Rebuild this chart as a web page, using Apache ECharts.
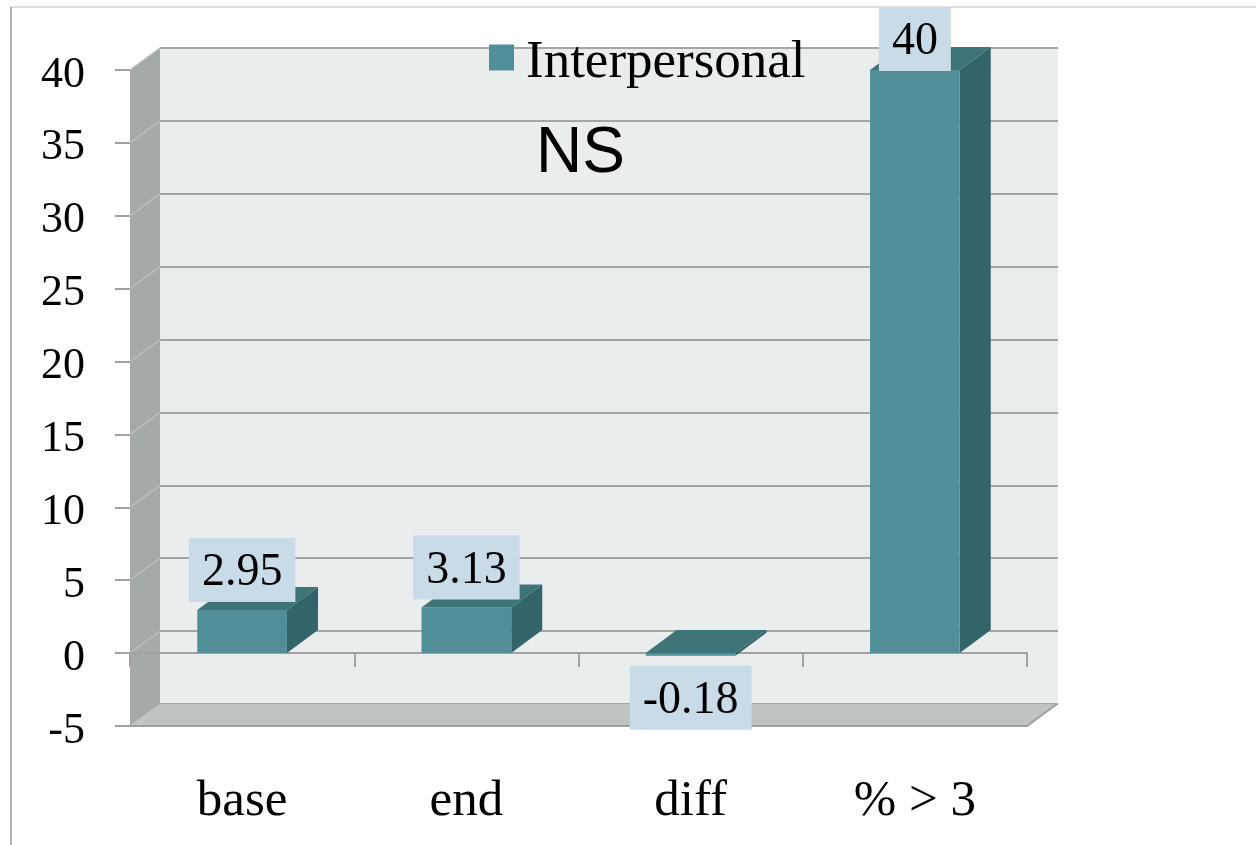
<!DOCTYPE html>
<html>
<head>
<meta charset="utf-8">
<script src="https://cdn.jsdelivr.net/npm/echarts@6/dist/echarts.min.js"></script>
<style>
  html, body { margin: 0; padding: 0; background: #ffffff; }
  #chart { width: 1256px; height: 845px; }
</style>
</head>
<body>
<div id="chart"></div>
<script>
// Chart data
const categories = ['base', 'end', 'diff', '% > 3'];
const seriesName = 'Interpersonal';
const interpersonal = [2.95, 3.13, -0.18, 40];
const yTicks = [-5, 0, 5, 10, 15, 20, 25, 30, 35, 40];
const note = 'NS';

// Oblique depth of the 3D box (pixels)
const DEPTH_X = 30;
const DEPTH_Y = -22;
const BAR_DEPTH_X = 31;
const BAR_DEPTH_Y = -23;

const SERIF = '"Liberation Serif", "Times New Roman", serif';
const FRONT = '#528e97';
const SIDE = '#336469';
const TOP = '#3e7478';

const chart = echarts.init(document.getElementById('chart'), null, { renderer: 'canvas' });

// Walls and floor of the plot box, drawn in the front grid's coordinates
function renderWalls(params, api) {
  const cs = params.coordSys;
  const L = cs.x, R = cs.x + cs.width;
  const yMin = api.coord([0, yTicks[0]])[1];
  const yMax = api.coord([0, yTicks[yTicks.length - 1]])[1];
  const children = [];
  // left side wall
  children.push({
    type: 'polygon',
    shape: { points: [[L, yMax], [L + DEPTH_X, yMax + DEPTH_Y], [L + DEPTH_X, yMin + DEPTH_Y], [L, yMin]] },
    style: { fill: '#a4a9a9' }
  });
  // diagonal grid lines on the side wall
  yTicks.forEach(function (t) {
    const y = api.coord([0, t])[1];
    children.push({
      type: 'line',
      shape: { x1: L, y1: y, x2: L + DEPTH_X, y2: y + DEPTH_Y },
      style: { stroke: '#b9bdbd', lineWidth: 1.5 }
    });
  });
  // floor
  children.push({
    type: 'polygon',
    shape: { points: [[L, yMin], [L + DEPTH_X, yMin + DEPTH_Y], [R + DEPTH_X, yMin + DEPTH_Y], [R, yMin]] },
    style: { fill: '#bfc3c4' }
  });
  children.push({
    type: 'polyline',
    shape: { points: [[L, yMin], [R, yMin], [R + DEPTH_X, yMin + DEPTH_Y]] },
    style: { stroke: '#9d9fa0', lineWidth: 2, fill: null }
  });
  return { type: 'group', children: children };
}

// 3D bars with value boxes
function renderBar(params, api) {
  const cat = api.value(0);
  const v = api.value(1);
  const pTop = api.coord([cat, Math.max(v, 0)]);
  const pBot = api.coord([cat, Math.min(v, 0)]);
  const bw = api.size([1, 0])[0] * 0.4;
  const x0 = pTop[0] - bw / 2, x1 = x0 + bw;
  const yT = pTop[1], yB = pBot[1];
  const dx = BAR_DEPTH_X, dy = BAR_DEPTH_Y;

  const fontSize = 46, padV = 9, padH = 13;
  const boxH = fontSize + 2 * padV;
  let labelY, vAlign;
  if (v >= 0) {
    let bottom = yT - 8;
    if (bottom - boxH < 7) bottom = 7 + boxH;
    labelY = bottom; vAlign = 'bottom';
  } else {
    labelY = yB + 10; vAlign = 'top';
  }

  return {
    type: 'group',
    children: [
      {
        type: 'polygon',
        shape: { points: [[x1, yT], [x1 + dx, yT + dy], [x1 + dx, yB + dy], [x1, yB]] },
        style: { fill: SIDE }
      },
      {
        type: 'rect',
        shape: { x: x0, y: yT, width: bw, height: Math.max(yB - yT, 0.5) },
        style: { fill: api.visual('color') }
      },
      {
        type: 'polygon',
        shape: { points: [[x0, yT], [x0 + dx, yT + dy], [x1 + dx, yT + dy], [x1, yT]] },
        style: { fill: TOP }
      },
      {
        type: 'text',
        z2: 10,
        style: {
          text: String(v),
          x: (x0 + x1) / 2,
          y: labelY,
          align: 'center',
          verticalAlign: vAlign,
          font: fontSize + 'px ' + SERIF,
          lineHeight: fontSize,
          fill: '#000000',
          backgroundColor: '#c9dbe7',
          padding: [padV + 3, padH, padV - 3, padH]
        }
      }
    ]
  };
}

const option = {
  backgroundColor: '#ffffff',
  animation: false,
  title: {
    text: note,
    left: 536,
    top: 122,
    padding: 0,
    textStyle: { fontFamily: '"Liberation Sans", Arial, sans-serif', fontSize: 64, fontWeight: 'normal', color: '#000000' }
  },
  legend: {
    data: [seriesName],
    left: 489,
    top: 25,
    padding: 0,
    icon: 'rect',
    itemWidth: 25,
    itemHeight: 26,
    formatter: '{t|{name}}',
    textStyle: {
      color: '#000000',
      rich: { t: { fontFamily: SERIF, fontSize: 53, lineHeight: 53, color: '#000000', padding: [12, 0, 0, 7] } }
    }
  },
  grid: [
    { left: 130, right: 229, top: 70, bottom: 119, show: false, containLabel: false, outerBoundsMode: 'none' },
    { left: 160, right: 198, top: 48, bottom: 141, show: true, backgroundColor: '#e9edee', borderWidth: 0, containLabel: false, outerBoundsMode: 'none' }
  ],
  xAxis: [
    {
      type: 'category', gridIndex: 0, data: categories, z: 2,
      axisLine: { onZero: true, lineStyle: { color: '#a2a2a2', width: 2 } },
      axisTick: { show: true, length: 14, lineStyle: { color: '#a2a2a2', width: 2 } },
      axisLabel: { fontFamily: SERIF, fontSize: 51, color: '#000000', margin: 50 },
      splitLine: { show: false }
    },
    {
      type: 'category', gridIndex: 1, data: categories,
      axisLine: { show: false }, axisTick: { show: false }, axisLabel: { show: false }, splitLine: { show: false }
    }
  ],
  yAxis: [
    {
      type: 'value', gridIndex: 0, min: -5, max: 40, interval: 5,
      axisLine: { show: false },
      axisTick: { show: true, length: 15, lineStyle: { color: '#a2a2a2', width: 2 } },
      axisLabel: {
        margin: 45,
        formatter: '{n|{value}}',
        rich: { n: { fontFamily: SERIF, fontSize: 44, lineHeight: 44, color: '#000000', padding: [10, 0, 0, 0] } }
      },
      splitLine: { show: false }
    },
    {
      type: 'value', gridIndex: 1, min: -5, max: 40, interval: 5,
      axisLine: { show: false }, axisTick: { show: false }, axisLabel: { show: false },
      splitLine: { show: true, lineStyle: { color: '#a5a5a5', width: 2 } }
    }
  ],
  graphic: [
    { type: 'line', shape: { x1: 11, y1: 7, x2: 1256, y2: 7 }, style: { stroke: '#dedede', lineWidth: 2 }, z: 0 },
    { type: 'line', shape: { x1: 11, y1: 7, x2: 11, y2: 845 }, style: { stroke: '#b2b2b2', lineWidth: 2 }, z: 0 }
  ],
  series: [
    {
      type: 'custom', name: 'walls', xAxisIndex: 0, yAxisIndex: 0, z: 1,
      silent: true, legendHoverLink: false,
      renderItem: renderWalls,
      data: [[0, 0]]
    },
    {
      type: 'custom', name: seriesName, xAxisIndex: 0, yAxisIndex: 0, z: 3,
      itemStyle: { color: FRONT },
      renderItem: renderBar,
      encode: { x: 0, y: 1 },
      data: interpersonal.map(function (v, i) { return [i, v]; })
    }
  ]
};

chart.setOption(option);
</script>
</body>
</html>
